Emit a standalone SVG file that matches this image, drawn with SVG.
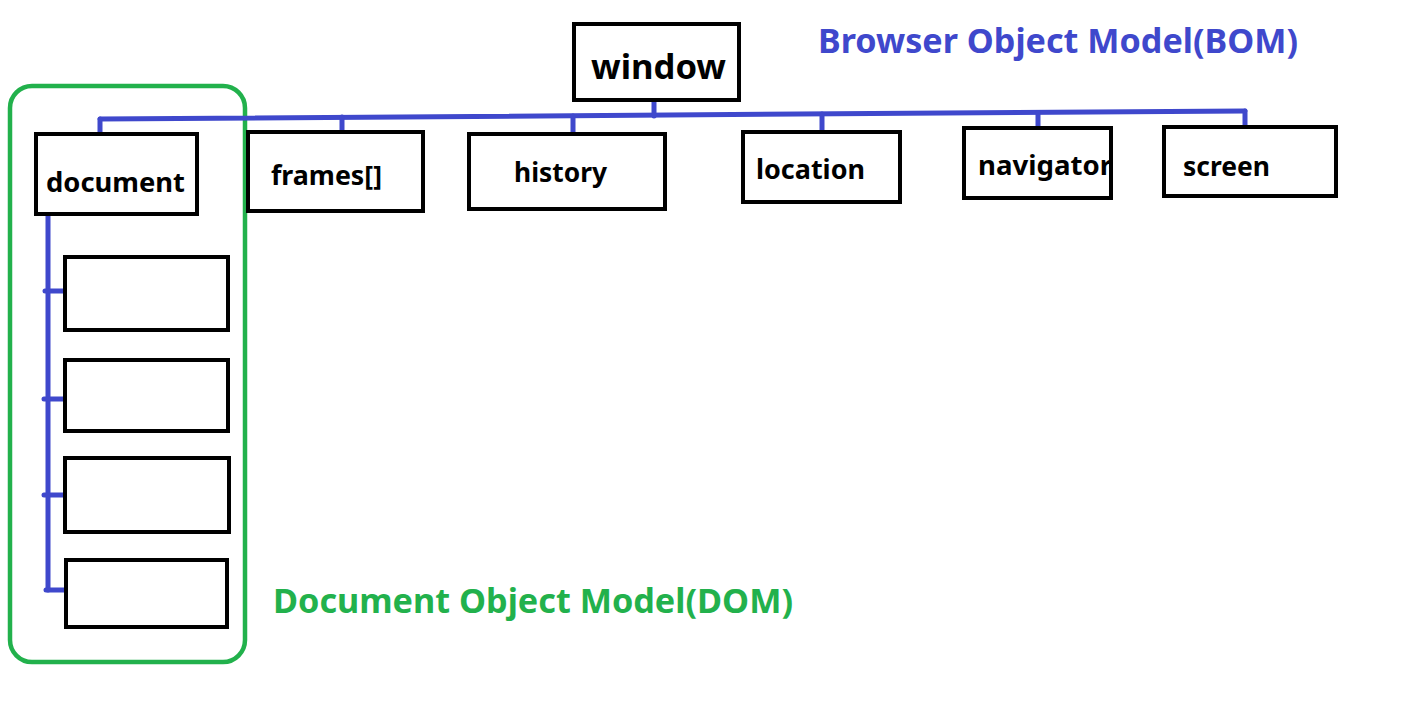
<svg xmlns="http://www.w3.org/2000/svg" width="1405" height="721" viewBox="0 0 1405 721">
<style>
.box{fill:#fff;stroke:#000;stroke-width:4}
.lbl{font-family:"Noto Sans","Open Sans",sans-serif;font-weight:700;fill:#000}
.conn{fill:none;stroke:#3f48cc;stroke-width:5;stroke-linecap:round;stroke-linejoin:round}
.title{font-family:"Noto Sans","Open Sans",sans-serif;font-weight:700}
</style>
<rect width="1405" height="721" fill="#fff"/>
<g id="dom-group">
<rect x="10" y="86" width="235" height="576" rx="22" fill="none" stroke="#22b14c" stroke-width="4.5"/>
</g>
<g id="connectors">
<polyline class="conn" points="100,119 1245,111"/>
<line class="conn" x1="654" y1="100" x2="654" y2="116"/>
<line class="conn" x1="100" y1="119" x2="100" y2="133"/>
<line class="conn" x1="342" y1="117" x2="342" y2="130"/>
<line class="conn" x1="573" y1="116" x2="573" y2="132"/>
<line class="conn" x1="822" y1="114" x2="822" y2="130"/>
<line class="conn" x1="1038" y1="113" x2="1038" y2="126"/>
<line class="conn" x1="1245" y1="111" x2="1245" y2="125"/>
<polyline class="conn" points="48,215 48,590"/>
<line class="conn" x1="45" y1="291" x2="65" y2="291"/>
<line class="conn" x1="44" y1="399" x2="65" y2="399"/>
<line class="conn" x1="44" y1="495" x2="64" y2="495"/>
<line class="conn" x1="46" y1="590" x2="67" y2="590"/>
</g>
<g id="window"><rect class="box" x="574" y="24" width="165" height="76"/><text class="lbl" x="591" y="79" font-size="34" textLength="135" lengthAdjust="spacingAndGlyphs">window</text></g>
<g id="document"><rect class="box" x="36" y="134" width="161" height="80"/><text class="lbl" x="46" y="192" font-size="26" textLength="139" lengthAdjust="spacingAndGlyphs">document</text></g>
<g id="frames"><rect class="box" x="248" y="132" width="175" height="79"/><text class="lbl" x="271" y="185" font-size="26" textLength="111" lengthAdjust="spacingAndGlyphs">frames[]</text></g>
<g id="history"><rect class="box" x="469" y="134" width="196" height="75"/><text class="lbl" x="514" y="182" font-size="26" textLength="93" lengthAdjust="spacingAndGlyphs">history</text></g>
<g id="location"><rect class="box" x="743" y="132" width="157" height="70"/><text class="lbl" x="756" y="179" font-size="26" textLength="109" lengthAdjust="spacingAndGlyphs">location</text></g>
<g id="navigator"><text class="lbl" x="978" y="175" font-size="26" textLength="134" lengthAdjust="spacingAndGlyphs">navigator</text><rect x="964" y="128" width="147" height="70" fill="none" stroke="#000" stroke-width="4"/></g>
<g id="screen"><rect class="box" x="1164" y="127" width="172" height="69"/><text class="lbl" x="1183" y="176" font-size="26" textLength="87" lengthAdjust="spacingAndGlyphs">screen</text></g>
<g id="dom1"><rect class="box" x="65" y="257" width="163" height="73"/></g>
<g id="dom2"><rect class="box" x="65" y="360" width="163" height="71"/></g>
<g id="dom3"><rect class="box" x="65" y="458" width="164" height="74"/></g>
<g id="dom4"><rect class="box" x="66" y="560" width="161" height="67"/></g>
<text class="title" x="818" y="53" font-size="34" fill="#3f48cc" textLength="480" lengthAdjust="spacingAndGlyphs">Browser Object Model(BOM)</text>
<text class="title" x="273" y="613" font-size="34" fill="#22b14c" textLength="520" lengthAdjust="spacingAndGlyphs">Document Object Model(DOM)</text>
</svg>
